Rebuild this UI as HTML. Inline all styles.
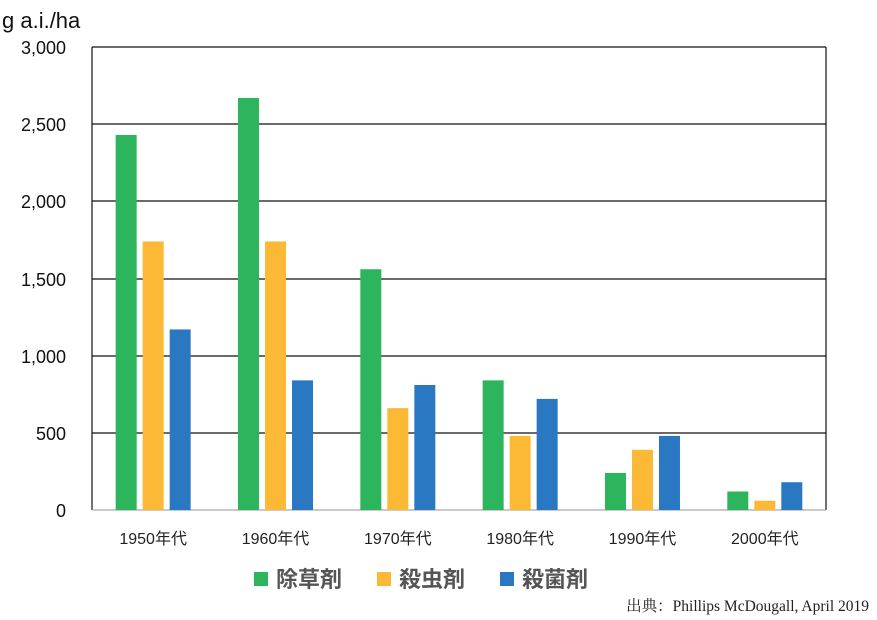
<!DOCTYPE html>
<html><head><meta charset="utf-8"><style>body{margin:0;background:#fff}</style></head><body>
<svg width="877" height="615" xmlns="http://www.w3.org/2000/svg" font-family="Liberation Sans, Noto Sans CJK JP, sans-serif">
<rect width="877" height="615" fill="#fff"/>
<text x="2" y="28" font-size="22" fill="#111">g a.i./ha</text>
<g stroke="#111" stroke-width="1.2">
<line x1="92" y1="47" x2="826" y2="47"/><line x1="92" y1="124" x2="826" y2="124"/>
<line x1="92" y1="201" x2="826" y2="201"/><line x1="92" y1="279" x2="826" y2="279"/>
<line x1="92" y1="356" x2="826" y2="356"/><line x1="92" y1="433" x2="826" y2="433"/>
<line x1="92" y1="47" x2="92" y2="510"/><line x1="826" y1="47" x2="826" y2="510"/>
</g>
<line x1="92" y1="510" x2="826" y2="510" stroke="#aaa" stroke-width="1.2"/>
<g font-size="18" fill="#111" text-anchor="end">
<text x="66" y="54">3,000</text><text x="66" y="131">2,500</text><text x="66" y="208">2,000</text>
<text x="66" y="286">1,500</text><text x="66" y="363">1,000</text><text x="66" y="440">500</text><text x="66" y="517">0</text>
</g>
<g id="bars"></g>
<g font-size="16" fill="#222" text-anchor="middle" id="labels"></g>
<rect x="254" y="572" width="14" height="14" fill="#2db55d"/>
<text x="276" y="587" font-size="22" font-weight="bold" fill="#555">除草剤</text>
<rect x="377" y="572" width="14" height="14" fill="#fbb935"/>
<text x="399" y="587" font-size="22" font-weight="bold" fill="#555">殺虫剤</text>
<rect x="500" y="572" width="14" height="14" fill="#2a78c2"/>
<text x="522" y="587" font-size="22" font-weight="bold" fill="#555">殺菌剤</text>
<text x="869" y="611" font-size="15.5" fill="#222" text-anchor="end" font-family="Liberation Serif, Noto Serif CJK SC, serif">出典：Phillips McDougall,  April 2019</text>
<script>
var d=[[2430,1740,1170],[2670,1740,840],[1560,660,810],[840,480,720],[240,390,480],[120,60,180]];
var c=["#2db55d","#fbb935","#2a78c2"],ns="http://www.w3.org/2000/svg",b=document.getElementById("bars"),l=document.getElementById("labels");
var yr=["1950","1960","1970","1980","1990","2000"];
d.forEach(function(g,i){var cx=92+122.33*(i+0.5);g.forEach(function(v,j){var h=v*463/3000,r=document.createElementNS(ns,"rect");
r.setAttribute("x",cx-10.5+(j-1)*27);r.setAttribute("y",510-h);r.setAttribute("width",21);r.setAttribute("height",h);r.setAttribute("fill",c[j]);b.appendChild(r);});
var t=document.createElementNS(ns,"text");t.setAttribute("x",cx);t.setAttribute("y",544);t.textContent=yr[i]+"年代";l.appendChild(t);});
</script>
</svg>
</body></html>
